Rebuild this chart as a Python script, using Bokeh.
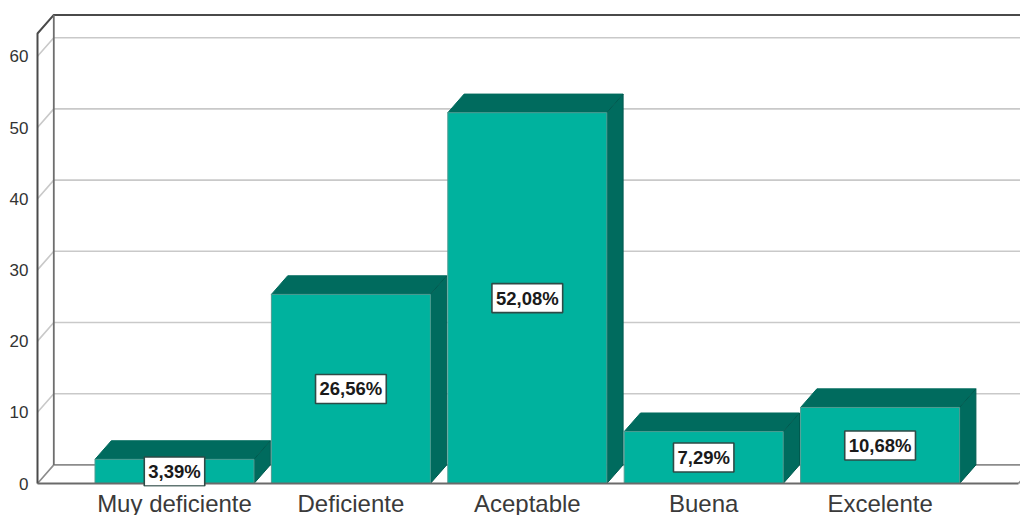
from bokeh.embed import file_html
from bokeh.models import ColumnDataSource, FixedTicker, Range1d
from bokeh.plotting import figure
from bokeh.resources import INLINE
from bokeh.core.properties import value

# Survey results: share of answers per rating
categories = ["Muy deficiente", "Deficiente", "Aceptable", "Buena", "Excelente"]
percentages = [3.39, 26.56, 52.08, 7.29, 10.68]
percent_labels = ["3,39%", "26,56%", "52,08%", "7,29%", "10,68%"]
y_ticks = [0, 10, 20, 30, 40, 50, 60]

# Frame placement and axis scales
WIDTH, HEIGHT = 1020, 515
FRAME_LEFT, FRAME_RIGHT, FRAME_TOP, FRAME_BOTTOM = 34, 1020, 12, 486
PX_PER_CAT, PX_PER_UNIT = 176.4, 7.12
FIRST_CAT_PX, ZERO_PX = 174, 483

x_start = (FRAME_LEFT - FIRST_CAT_PX) / PX_PER_CAT
x_end = (FRAME_RIGHT - FIRST_CAT_PX) / PX_PER_CAT
y_start = (ZERO_PX - FRAME_BOTTOM) / PX_PER_UNIT
y_end = (ZERO_PX - FRAME_TOP) / PX_PER_UNIT

# Oblique projection: how far the back plane is shifted, in data units
DEPTH_X = 16.3 / PX_PER_CAT
DEPTH_Y = 18.6 / PX_PER_UNIT
BAR_WIDTH = 159 / PX_PER_CAT
WALL_LEFT = (37 - FIRST_CAT_PX) / PX_PER_CAT
WALL_RIGHT = (1018 - FIRST_CAT_PX) / PX_PER_CAT
WALL_TOP = 63.2

FRONT = "#00B29E"
SHADE = "#006B5E"
GRID = "#C9C9C9"
FRAME_DARK = "#4A4A4A"

p = figure(
    output_backend="svg", toolbar_location=None,
    frame_width=FRAME_RIGHT - FRAME_LEFT, frame_height=FRAME_BOTTOM - FRAME_TOP,
    width=WIDTH, height=HEIGHT,
    x_range=Range1d(x_start, x_end), y_range=Range1d(y_start, y_end),
    min_border_left=FRAME_LEFT, min_border_right=WIDTH - FRAME_RIGHT,
    min_border_top=FRAME_TOP, min_border_bottom=HEIGHT - FRAME_BOTTOM,
    outline_line_color=None, background_fill_color="white",
)
p.grid.visible = False

# Back wall gridlines with their slanted runs across the side wall
for v in y_ticks[1:]:
    p.line([WALL_LEFT, WALL_LEFT + DEPTH_X, WALL_RIGHT + DEPTH_X],
           [v, v + DEPTH_Y, v + DEPTH_Y], line_color=GRID, line_width=1.6)

# Floor outline
p.line([WALL_LEFT, WALL_LEFT + DEPTH_X, WALL_RIGHT + DEPTH_X, WALL_RIGHT],
       [0, DEPTH_Y, DEPTH_Y, 0], line_color="#8C8C8C", line_width=1.6)

# Wall outlines
p.line([WALL_LEFT, WALL_LEFT, WALL_LEFT + DEPTH_X, WALL_RIGHT + DEPTH_X],
       [0, WALL_TOP, WALL_TOP + DEPTH_Y, WALL_TOP + DEPTH_Y],
       line_color=FRAME_DARK, line_width=2)
p.line([WALL_LEFT + DEPTH_X, WALL_LEFT + DEPTH_X],
       [DEPTH_Y, WALL_TOP + DEPTH_Y], line_color="#6E6E6E", line_width=1.8)

# Bars: top and side faces first, then the front face
xs = list(range(len(categories)))
top_x, top_y, side_x, side_y = [], [], [], []
for x, v in zip(xs, percentages):
    l, r = x - BAR_WIDTH / 2, x + BAR_WIDTH / 2
    top_x.append([l, r, r + DEPTH_X, l + DEPTH_X])
    top_y.append([v, v, v + DEPTH_Y, v + DEPTH_Y])
    side_x.append([r, r + DEPTH_X, r + DEPTH_X, r])
    side_y.append([0, DEPTH_Y, v + DEPTH_Y, v])
p.patches(top_x, top_y, fill_color=SHADE, line_color=SHADE, line_width=1)
p.patches(side_x, side_y, fill_color=SHADE, line_color="#005A4F", line_width=1)
p.vbar(x=xs, top=percentages, bottom=0, width=BAR_WIDTH,
       fill_color=FRONT, line_color="#4F9C92", line_width=1)

# Front edge of the floor, over the bar feet
p.line([WALL_LEFT, WALL_RIGHT], [0, 0], line_color="#6A6A6A", line_width=2)

# Value labels centred on each bar
src = ColumnDataSource(dict(
    x=xs, y=[v / 2 for v in percentages], text=percent_labels))
p.text(x="x", y="y", text="text", source=src,
       text_align="center", text_baseline="middle",
       text_font=value("Liberation Sans"), text_font_style="bold",
       text_font_size="18.5px", text_color="#1A1A1A",
       background_fill_color="white", border_line_color="#2E4A46",
       border_line_width=1.6, padding=4)

# Axes: no lines or ticks of their own, only labels
ya = p.yaxis[0]
ya.ticker = FixedTicker(ticks=y_ticks)
ya.axis_line_color = None
ya.major_tick_line_color = None
ya.minor_tick_line_color = None
ya.major_tick_out = 0
ya.major_tick_in = 0
ya.minor_tick_out = 0
ya.major_label_standoff = 6
ya.major_label_text_font = "Liberation Sans"
ya.major_label_text_font_size = "17px"
ya.major_label_text_color = "#333333"

xa = p.xaxis[0]
xa.ticker = FixedTicker(ticks=xs)
xa.major_label_overrides = {i: c for i, c in enumerate(categories)}
xa.axis_line_color = None
xa.major_tick_line_color = None
xa.minor_tick_line_color = None
xa.major_tick_out = 0
xa.major_tick_in = 0
xa.minor_tick_out = 0
xa.major_label_standoff = 3
xa.major_label_text_line_height = 1.0
xa.major_label_text_font = "Liberation Sans"
xa.major_label_text_font_size = "24px"
xa.major_label_text_color = "#3A3A3A"

open("out.html", "w").write(file_html(p, INLINE))
